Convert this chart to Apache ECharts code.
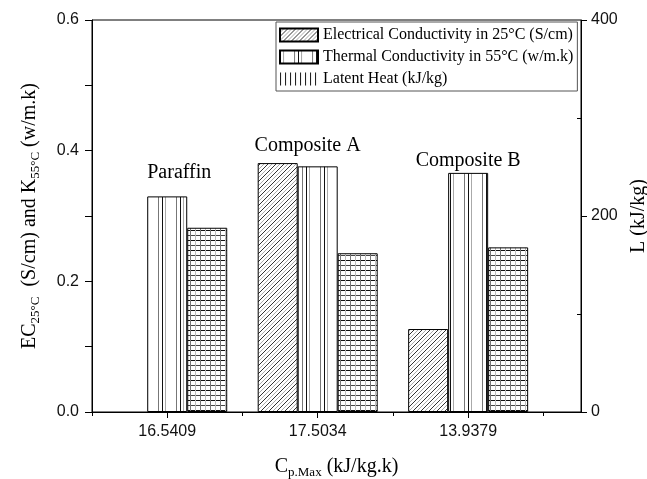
<!DOCTYPE html>
<html><head><meta charset="utf-8">
<script src="https://cdn.jsdelivr.net/npm/echarts@6/dist/echarts.min.js"></script>
<style>html,body{margin:0;padding:0;background:#fff}#c{width:647px;height:479px}</style>
</head><body><div id="c"></div>
<script>
// ---- data ----
const categories = ['16.5409', '17.5034', '13.9379'];
const samples = ['Paraffin', 'Composite A', 'Composite B'];
const ecValues = [null, 0.381, 0.127];        // S/cm, left axis
const kValues = [0.330, 0.376, 0.366];        // w/m.k, left axis
const latentValues = [188, 162, 168];         // kJ/kg, right axis
const leftTicks = ['0.0', '0.2', '0.4', '0.6'];
const rightTicks = ['0', '200', '400'];
const seriesNames = ['Electrical Conductivity in 25°C (S/cm)', 'Thermal Conductivity in 55°C (w/m.k)', 'Latent Heat (kJ/kg)'];

// ---- patterns ----
function pat(w, h, draw) {
  const c = document.createElement('canvas'); c.width = w; c.height = h;
  const g = c.getContext('2d'); g.fillStyle = '#fff'; g.fillRect(0, 0, w, h);
  g.lineWidth = 1; draw(g);
  return { image: c, repeat: 'repeat' };
}
function line(g, x1, y1, x2, y2, col) { g.strokeStyle = col; g.beginPath(); g.moveTo(x1, y1); g.lineTo(x2, y2); g.stroke(); }
const ecPattern = pat(8, 8, g => {
  [[0, '#333'], [8, '#333'], [16, '#333'], [4, '#aaa'], [12, '#aaa']].forEach(([c, col]) => line(g, -1, c + 1, c + 1, -1, col));
});
const kPattern = pat(18, 4, g => {
  line(g, 0.5, 0, 0.5, 4, '#111'); line(g, 3.5, 0, 3.5, 4, '#aaa'); line(g, 14.5, 0, 14.5, 4, '#777');
});
const lPattern = pat(10, 10, g => {
  line(g, 0, 0.5, 10, 0.5, '#111'); line(g, 0, 5.5, 10, 5.5, '#444');
  line(g, 0.5, 0, 0.5, 10, '#777'); line(g, 5.5, 0, 5.5, 10, '#bbb');
});
const lLegendPattern = pat(5, 4, g => { line(g, 0.5, 0, 0.5, 4, '#222'); });

const pos = categories.map((c, i) => i + 1);
const toData = arr => arr.map((v, i) => [pos[i], v]).filter(d => d[1] !== null);

const serif = 'Liberation Serif';
const sans = 'Liberation Sans';
const chart = echarts.init(document.getElementById('c'));
const barCommon = { type: 'bar', barWidth: 40, barGap: '0%', xAxisIndex: 0 };
chart.setOption({
  animation: false,
  backgroundColor: '#fff',
  grid: { left: 92, right: 66, top: 20, bottom: 67, show: true, borderColor: '#000', borderWidth: 1, outerBoundsMode: 'none', containLabel: false },
  legend: {
    orient: 'vertical', left: 276, top: 22, itemWidth: 38, itemHeight: 13, itemGap: 6,
    padding: [5, 4, 4, 3], borderColor: '#555', borderWidth: 1, icon: 'rect',
    textStyle: { fontFamily: serif, fontSize: 16, color: '#000' },
    data: [
      { name: seriesNames[0] },
      { name: seriesNames[1] },
      { name: seriesNames[2], itemStyle: { color: lLegendPattern, borderColor: '#fff', borderWidth: 0 } }
    ]
  },
  xAxis: [{
    type: 'value', min: 0.5, max: 3.75, position: 'bottom',
    name: '{a|C}{s|p.Max}{a| (kJ/kg.k)}', nameLocation: 'middle', nameGap: 42,
    nameTextStyle: { rich: { a: { fontFamily: serif, fontSize: 20, color: '#000' }, s: { fontFamily: serif, fontSize: 13, color: '#000', padding: [12, 0, 0, 0] } } },
    axisLine: { lineStyle: { color: '#000', width: 1 } },
    axisTick: { customValues: pos, length: 6, lineStyle: { color: '#000' } },
    axisLabel: { customValues: pos, formatter: v => categories[Math.round(v) - 1], fontFamily: sans, fontSize: 16, color: '#111', margin: 12 },
    splitLine: { show: false }
  }, {
    type: 'value', min: 0.5, max: 3.75, position: 'bottom',
    axisLine: { show: false }, axisLabel: { show: false }, splitLine: { show: false },
    axisTick: { customValues: [0.5, 1.5, 2.5, 3.5], length: 4, lineStyle: { color: '#000' } }
  }],
  yAxis: [{
    type: 'value', min: 0, max: 0.6, interval: 0.2, position: 'left',
    name: '{a|EC}{s|25°C}{a|  (S/cm) and K}{s|55°C}{a| (w/m.k)}', nameLocation: 'middle', nameRotate: 90, nameGap: 50,
    nameTextStyle: { rich: { a: { fontFamily: serif, fontSize: 20, color: '#000' }, s: { fontFamily: serif, fontSize: 13, color: '#000', padding: [12, 0, 0, 0] } } },
    axisLine: { show: true, lineStyle: { color: '#000', width: 1 } },
    axisTick: { show: true, length: 7, lineStyle: { color: '#000' } },
    minorTick: { show: true, splitNumber: 2, length: 7, lineStyle: { color: '#000' } },
    axisLabel: { formatter: v => leftTicks[Math.round(v / 0.2)], fontFamily: sans, fontSize: 16, color: '#111', margin: 13 },
    splitLine: { show: false }
  }, {
    type: 'value', min: 0, max: 400, interval: 200, position: 'right',
    name: 'L (kJ/kg)', nameLocation: 'middle', nameRotate: 90, nameGap: 46,
    nameTextStyle: { fontFamily: serif, fontSize: 20, color: '#000' },
    axisLine: { show: true, lineStyle: { color: '#000', width: 1 } },
    axisTick: { show: true, length: 6, lineStyle: { color: '#000' } },
    axisLabel: { formatter: v => rightTicks[Math.round(v / 200)], fontFamily: sans, fontSize: 16, color: '#111', margin: 10 },
    splitLine: { show: false }
  }, {
    type: 'value', min: 0, max: 400, position: 'right',
    axisLine: { show: false }, axisLabel: { show: false }, splitLine: { show: false },
    axisTick: { show: true, inside: true, customValues: [100, 300], length: 4, lineStyle: { color: '#000' } }
  }],
  series: [
    Object.assign({}, barCommon, { name: seriesNames[0], yAxisIndex: 0, data: toData(ecValues),
      itemStyle: { color: ecPattern, borderColor: '#000', borderWidth: 1 } }),
    Object.assign({}, barCommon, { name: seriesNames[1], yAxisIndex: 0, data: toData(kValues),
      itemStyle: { color: kPattern, borderColor: '#000', borderWidth: 1 },
      markPoint: {
        symbol: 'rect', symbolSize: 0,
        label: { show: true, position: 'inside', formatter: '{b}', fontFamily: serif, fontSize: 20, color: '#000' },
        data: [
          { name: samples[0], coord: [1.08, 0.366] },
          { name: samples[1], coord: [1.933, 0.408] },
          { name: samples[2], coord: [3.0, 0.385] }
        ]
      } }),
    Object.assign({}, barCommon, { name: seriesNames[2], yAxisIndex: 1, data: toData(latentValues),
      itemStyle: { color: lPattern, borderColor: '#000', borderWidth: 1 } })
  ]
});
</script></body></html>
